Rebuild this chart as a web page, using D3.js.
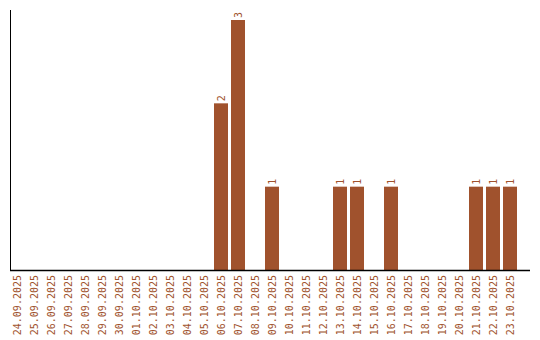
<!DOCTYPE html>
<html>
<head>
<meta charset="utf-8">
<script src="https://cdn.jsdelivr.net/npm/d3@7"></script>
<style>
  body { margin: 0; background: #fff; }
  text { font-family: "DejaVu Sans Mono", monospace; font-size: 10px; fill: #a0522d; }
</style>
</head>
<body>
<div id="chart"></div>
<script>
// dates and counts
var dates = ["24.09.2025", "25.09.2025", "26.09.2025", "27.09.2025", "28.09.2025",
  "29.09.2025", "30.09.2025", "01.10.2025", "02.10.2025", "03.10.2025",
  "04.10.2025", "05.10.2025", "06.10.2025", "07.10.2025", "08.10.2025",
  "09.10.2025", "10.10.2025", "11.10.2025", "12.10.2025", "13.10.2025",
  "14.10.2025", "15.10.2025", "16.10.2025", "17.10.2025", "18.10.2025",
  "19.10.2025", "20.10.2025", "21.10.2025", "22.10.2025", "23.10.2025"];
var counts = [0, 0, 0, 0, 0, 0, 0, 0, 0, 0, 0, 0, 2, 3, 0, 1, 0, 0, 0, 1, 1, 0, 1, 0, 0, 0, 0, 1, 1, 1];

var svgWidth = 540;
var svgHeight = 340;
var barColor = "#a0522d";

var svg = d3.select("#chart")
  .append("svg")
  .attr("width", svgWidth)
  .attr("height", svgHeight);

var data = dates.map(function(d, i) { return { date: d, count: counts[i] }; });

// x scale, 17px step with 3px gap
var x = d3.scaleBand()
  .domain(dates)
  .range([10, 517])
  .paddingInner(3 / 17)
  .paddingOuter(0);

var y = d3.scaleLinear()
  .domain([0, d3.max(counts)])
  .range([270, 20]);

// bars
svg.selectAll("rect.bar")
  .data(data.filter(function(d) { return d.count > 0; }))
  .enter()
  .append("rect")
  .attr("class", "bar")
  .attr("x", function(d) { return x(d.date); })
  .attr("y", function(d) { return y(d.count); })
  .attr("width", x.bandwidth())
  .attr("height", function(d) { return y(0) - y(d.count); })
  .attr("fill", barColor);

// value labels
svg.selectAll("text.value")
  .data(data.filter(function(d) { return d.count > 0; }))
  .enter()
  .append("text")
  .attr("class", "value")
  .attr("transform", function(d) {
    return "translate(" + (x(d.date) + x.bandwidth() / 2) + "," + (y(d.count) - 2) + ") rotate(-90)";
  })
  .attr("dy", "0.35em")
  .attr("text-anchor", "start")
  .text(function(d) { return d.count; });

// x axis
var xAxis = svg.append("g")
  .attr("transform", "translate(0," + y(0) + ")")
  .call(d3.axisBottom(x).tickSize(0).tickSizeOuter(0));

xAxis.select(".domain").remove();
xAxis.append("line")
  .attr("x1", 10)
  .attr("x2", 530)
  .attr("y1", 0.5)
  .attr("y2", 0.5)
  .attr("stroke", "#000")
  .attr("stroke-width", 1.5);

xAxis.selectAll(".tick text")
  .attr("y", 0)
  .attr("x", 0)
  .attr("dy", "0.35em")
  .attr("transform", "translate(0,5) rotate(-90)")
  .attr("text-anchor", "end")
  .attr("fill", barColor)
  .style("font-family", "'DejaVu Sans Mono', monospace")
  .style("font-size", "10px");

// y axis (line only)
svg.append("line")
  .attr("x1", 10.5)
  .attr("x2", 10.5)
  .attr("y1", y(d3.max(counts)) - 10)
  .attr("y2", y(0) + 1)
  .attr("stroke", "#000")
  .attr("stroke-width", 1);
</script>
</body>
</html>
